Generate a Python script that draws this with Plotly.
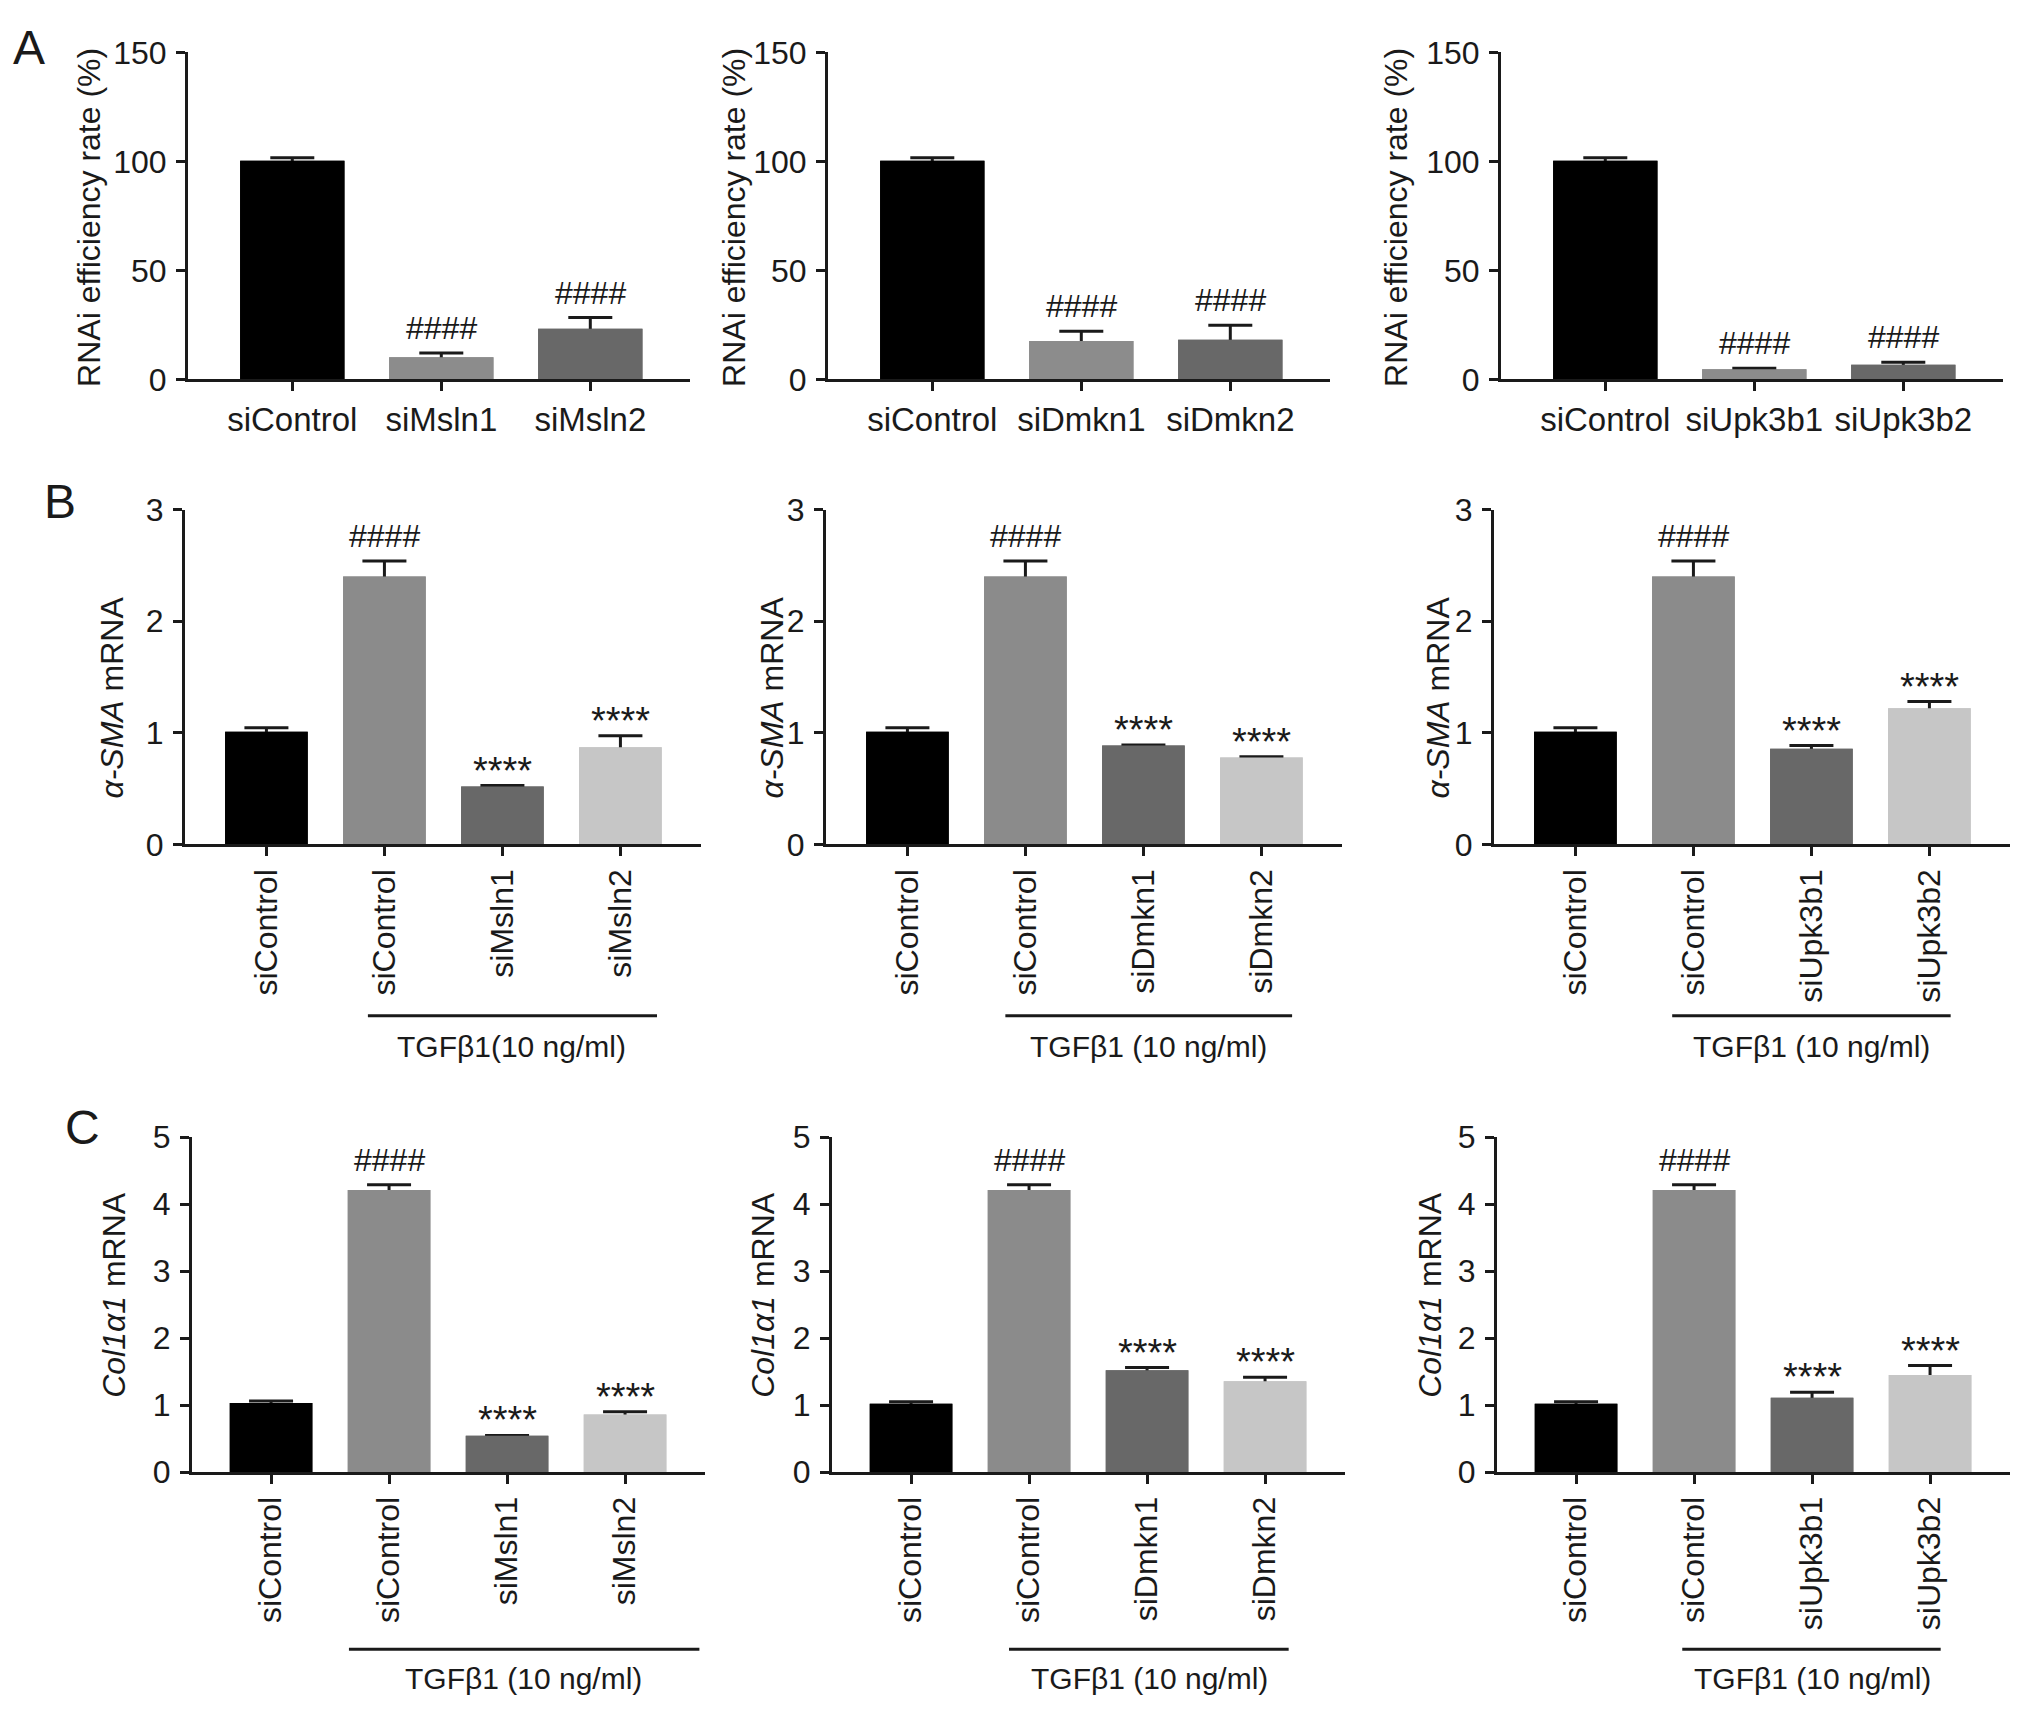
import plotly.graph_objects as go

FONT = "Liberation Sans, Arial, Helvetica, sans-serif"
INK = "#1a1a1a"
W, H = 2032, 1725
OFF = 8  # default page margin around the plot div
FW, FH = W - OFF, H - OFF

# ---- data ----
a_labels = [
    ["siControl", "siMsln1", "siMsln2"],
    ["siControl", "siDmkn1", "siDmkn2"],
    ["siControl", "siUpk3b1", "siUpk3b2"],
]
a_means = [[100.3, 10.2, 23.3], [100.3, 17.6, 18.2], [100.3, 4.7, 6.7]]
a_errs = [[1.4, 1.9, 5.1], [1.4, 4.5, 6.6], [1.4, 0.4, 1.2]]
a_marks = ["", "####", "####"]

bc_labels = [
    ["siControl", "siControl", "siMsln1", "siMsln2"],
    ["siControl", "siControl", "siDmkn1", "siDmkn2"],
    ["siControl", "siControl", "siUpk3b1", "siUpk3b2"],
]
b_means = [[1.01, 2.40, 0.52, 0.87], [1.01, 2.40, 0.886, 0.78], [1.01, 2.40, 0.858, 1.22]]
b_errs = [[0.035, 0.14, 0.008, 0.105], [0.035, 0.14, 0.006, 0.006], [0.035, 0.14, 0.028, 0.06]]
c_means = [[1.03, 4.21, 0.54, 0.86], [1.02, 4.21, 1.52, 1.355], [1.02, 4.21, 1.11, 1.45]]
c_errs = [[0.03, 0.08, 0.006, 0.04], [0.03, 0.08, 0.04, 0.06], [0.03, 0.08, 0.08, 0.14]]
bc_marks = ["", "####", "****", "****"]
b_tgf = ["TGFβ1(10 ng/ml)", "TGFβ1 (10 ng/ml)", "TGFβ1 (10 ng/ml)"]
c_tgf = ["TGFβ1 (10 ng/ml)", "TGFβ1 (10 ng/ml)", "TGFβ1 (10 ng/ml)"]

a_colors = ["#000000", "#8c8c8c", "#686868"]
bc_colors = ["#000000", "#8b8b8b", "#686868", "#c6c6c6"]

# ---- layout geometry (page pixels) ----
rows = {
    "A": dict(top=35, zero=369, ymax=150, dtick=50, title="RNAi efficiency rate (%)",
              title_y=204, title_x=[89, 734, 1396], x0=[188, 828, 1501],
              xr=(-0.70, 2.67), unit=149),
    "B": dict(top=502, zero=844, ymax=3, dtick=1, title="<i>α-SMA</i> mRNA",
              title_y=694, title_x=[112, 772, 1438], x0=[185, 826, 1494],
              xr=(-0.69, 3.68), unit=118, brk_y=1019, txt_y=1050, tgf=b_tgf,
              brk=[(0.86, 3.31), (0.83, 3.26), (0.82, 3.18)], txt_x=[2.08, 2.04, 2.0]),
    "C": dict(top=1143, zero=1485, ymax=5, dtick=1, title="<i>Col1α1</i> mRNA",
              title_y=1304, title_x=[114, 763, 1430], x0=[192, 832, 1497],
              xr=(-0.67, 3.68), unit=118, brk_y=1666, txt_y=1696, tgf=c_tgf,
              brk=[(0.66, 3.63), (0.83, 3.20), (0.90, 3.09)], txt_x=[2.14, 2.02, 2.0]),
}


def px(p):
    return (p - OFF) / FW


def py(p):
    return 1 - (p - OFF) / FH


fig = go.Figure()
layout = dict(
    width=FW, height=FH, margin=dict(l=0, r=0, t=0, b=0),
    paper_bgcolor="white", plot_bgcolor="white", showlegend=False,
    barmode="overlay", bargap=0.3, font=dict(family=FONT, color=INK),
)
annotations = []
shapes = []

panels = []
for j in range(3):
    panels.append(("A", j, a_labels[j], a_means[j], a_errs[j], a_colors, a_marks))
for j in range(3):
    panels.append(("B", j, bc_labels[j], b_means[j], b_errs[j], bc_colors, bc_marks))
for j in range(3):
    panels.append(("C", j, bc_labels[j], c_means[j], c_errs[j], bc_colors, bc_marks))

for k, (row, j, labels, means, errs, colors, marks) in enumerate(panels, start=1):
    r = rows[row]
    xa = "x" if k == 1 else f"x{k}"
    ya = "y" if k == 1 else f"y{k}"
    xs = list(range(len(labels)))
    width_px = (r["xr"][1] - r["xr"][0]) * r["unit"]
    x0 = r["x0"][j]

    # bars with error bars, then same bars again on top to hide the lower half
    fig.add_trace(go.Bar(
        x=xs, y=means, xaxis=xa, yaxis=ya, marker=dict(color=colors, line=dict(width=0)),
        error_y=dict(type="data", array=errs, symmetric=True, color=INK, thickness=3, width=22),
        hoverinfo="skip",
    ))
    fig.add_trace(go.Bar(
        x=xs, y=means, xaxis=xa, yaxis=ya, marker=dict(color=colors, line=dict(width=0)),
        hoverinfo="skip",
    ))

    layout["xaxis" if k == 1 else f"xaxis{k}"] = dict(
        domain=[px(x0), px(x0 + width_px)], anchor=ya, range=list(r["xr"]),
        tickvals=xs, ticktext=labels, tickangle=0 if row == "A" else -90,
        showline=True, linewidth=3, linecolor=INK, ticks="outside", ticklen=9,
        tickwidth=3, tickcolor=INK, showgrid=False, zeroline=False,
        tickfont=dict(size=33 if row == "A" else 32, family=FONT, color=INK),
        fixedrange=True,
    )
    layout["yaxis" if k == 1 else f"yaxis{k}"] = dict(
        domain=[py(r["zero"]), py(r["top"])], anchor=xa, range=[0, r["ymax"]],
        dtick=r["dtick"], tick0=0, showline=True, linewidth=3, linecolor=INK,
        ticks="outside", ticklen=9, tickwidth=3, tickcolor=INK, showgrid=False,
        ticklabelstandoff=3,
        zeroline=False, tickfont=dict(size=32, family=FONT, color=INK), fixedrange=True,
    )

    # y title
    annotations.append(dict(
        xref="paper", yref="paper", x=px(r["title_x"][j]), y=py(r["title_y"]),
        text=r["title"], textangle=-90, showarrow=False,
        font=dict(size=32, family=FONT, color=INK),
        xanchor="center", yanchor="middle",
    ))

    # significance marks
    for i, m in enumerate(marks):
        if not m:
            continue
        star = m.startswith("*")
        annotations.append(dict(
            xref=xa, yref=ya, x=i, y=means[i] + errs[i], text=m, showarrow=False,
            xanchor="center", yanchor="bottom", yshift=-8 if star else 5,
            font=dict(size=38 if star else 32, family=FONT, color=INK),
        ))

    if row != "A":
        b0, b1 = r["brk"][j]
        shapes.append(dict(type="line", xref=xa, yref="paper", x0=b0, x1=b1,
                           y0=py(r["brk_y"]), y1=py(r["brk_y"]),
                           line=dict(color=INK, width=3)))
        annotations.append(dict(
            xref=xa, yref="paper", x=r["txt_x"][j], y=py(r["txt_y"]), text=r["tgf"][j],
            showarrow=False, xanchor="center", yanchor="middle",
            font=dict(size=30, family=FONT, color=INK),
        ))

# panel letters
for letter, (lx, ly) in {"A": (29, 30), "B": (60, 494), "C": (82, 1133)}.items():
    annotations.append(dict(
        xref="paper", yref="paper", x=px(lx), y=py(ly), text=letter, showarrow=False,
        xanchor="center", yanchor="middle", font=dict(size=48, family=FONT, color=INK),
    ))

layout["annotations"] = annotations
layout["shapes"] = shapes
fig.update_layout(**layout)
fig.write_html("out.html")
